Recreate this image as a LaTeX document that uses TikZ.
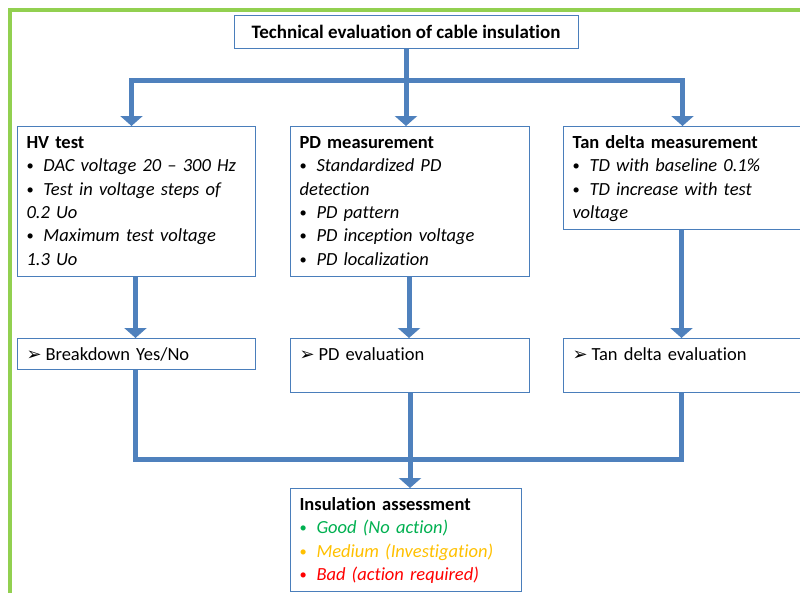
\documentclass[tikz,border=0pt]{standalone}
\usepackage{fontspec}
\setmainfont{Carlito}[Ligatures={NoCommon}]
\newfontfamily\symfont{DejaVu Sans}
\usetikzlibrary{arrows.meta}

\definecolor{frame}{HTML}{92D050}
\definecolor{flowblue}{HTML}{4F81BD}
\definecolor{boxblue}{HTML}{4A7EBB}
\definecolor{good}{HTML}{00B050}
\definecolor{medium}{HTML}{FFC000}
\definecolor{bad}{HTML}{FF0000}

% bullet item and result line
\newcommand{\itm}[1]{\par\hangindent=17pt\hangafter=1\makebox[17pt][l]{\raisebox{1pt}{\fontsize{14.5}{14}\selectfont\textbullet}}\textit{#1}}
\newcommand{\res}[1]{\makebox[19pt][l]{\fontsize{18}{16}\symfont ➢}#1}

\tikzset{
  panel/.style={draw=boxblue, line width=1pt, anchor=north west, inner xsep=9pt, inner ysep=8pt,
    text width=#1, text height=14pt, align=left, font=\fontsize{18.5}{23.3}\selectfont},
  flow/.style={draw=flowblue, line width=5pt, -{Triangle[width=22pt,length=10pt]}},
  link/.style={draw=flowblue, line width=5pt},
}

\begin{document}
\begin{tikzpicture}[x=1pt,y=-1pt]
  \useasboundingbox (0,0) rectangle (800,592);
  \clip (0,0) rectangle (800,592);
  % Draw green frame
  \draw[frame, line width=4pt] (10,620) |- (820,10);
  % Top box
  \node[draw=boxblue, line width=1pt, minimum width=344pt, minimum height=33pt,
    font=\fontsize{19}{23.3}\selectfont\bfseries] (top) at (406,31.5) {Technical evaluation of cable insulation};
  % Test boxes
  \node[panel=220pt, text depth=120pt] (hv) at (17,126) {\textbf{HV test}
    \itm{DAC voltage 20 -- 300 Hz}
    \itm{Test in voltage steps of\\0.2 Uo}
    \itm{Maximum test voltage\\1.3 Uo}};
  \node[panel=221pt, text depth=120pt] (pd) at (290,126) {\textbf{PD measurement}
    \itm{Standardized PD\\detection}
    \itm{PD pattern}
    \itm{PD inception voltage}
    \itm{PD localization}};
  \node[panel=220pt, text depth=73pt] (td) at (563,126) {\textbf{Tan delta measurement}
    \itm{TD with baseline 0.1\%}
    \itm{TD increase with test\\voltage}};
  % Evaluation boxes
  \node[panel=220pt, text depth=1pt] (brk) at (17,338) {\res{Breakdown Yes/No}};
  \node[panel=221pt, text depth=24pt] (pde) at (290,338) {\res{PD evaluation}};
  \node[panel=220pt, text depth=24pt] (tde) at (563,338) {\res{Tan delta evaluation}};
  % Result box
  \node[panel=213pt, text depth=73pt] (ins) at (290,488) {\textbf{Insulation assessment}
    {\color{good}\itm{Good (No action)}}
    {\color{medium}\itm{Medium (Investigation)}}
    {\color{bad}\itm{Bad (action required)}}};
  % Arrows from top box
  \coordinate (split) at (406,80);
  \draw[link] (top.south) -- (split);
  \draw[flow] (split) -| ([xshift=-5pt]hv.north);
  \draw[flow] (split) -- (split |- pd.north);
  \draw[flow] (split) -| (td.north);
  % Arrows to evaluations
  \foreach \a/\b in {hv/brk,pd/pde,td/tde} {
    \draw[flow] ([xshift=-1pt]\a.south) -- ([xshift=-1pt]\b.north);
  }
  % Merge to assessment
  \coordinate (merge) at ([yshift=-66pt]pde.south);
  \draw[link] ([xshift=-1pt]brk.south) |- (merge);
  \draw[link] ([xshift=-1pt]tde.south) |- (merge);
  \draw[flow] (pde.south) -- (pde.south |- ins.north);
\end{tikzpicture}
\end{document}
